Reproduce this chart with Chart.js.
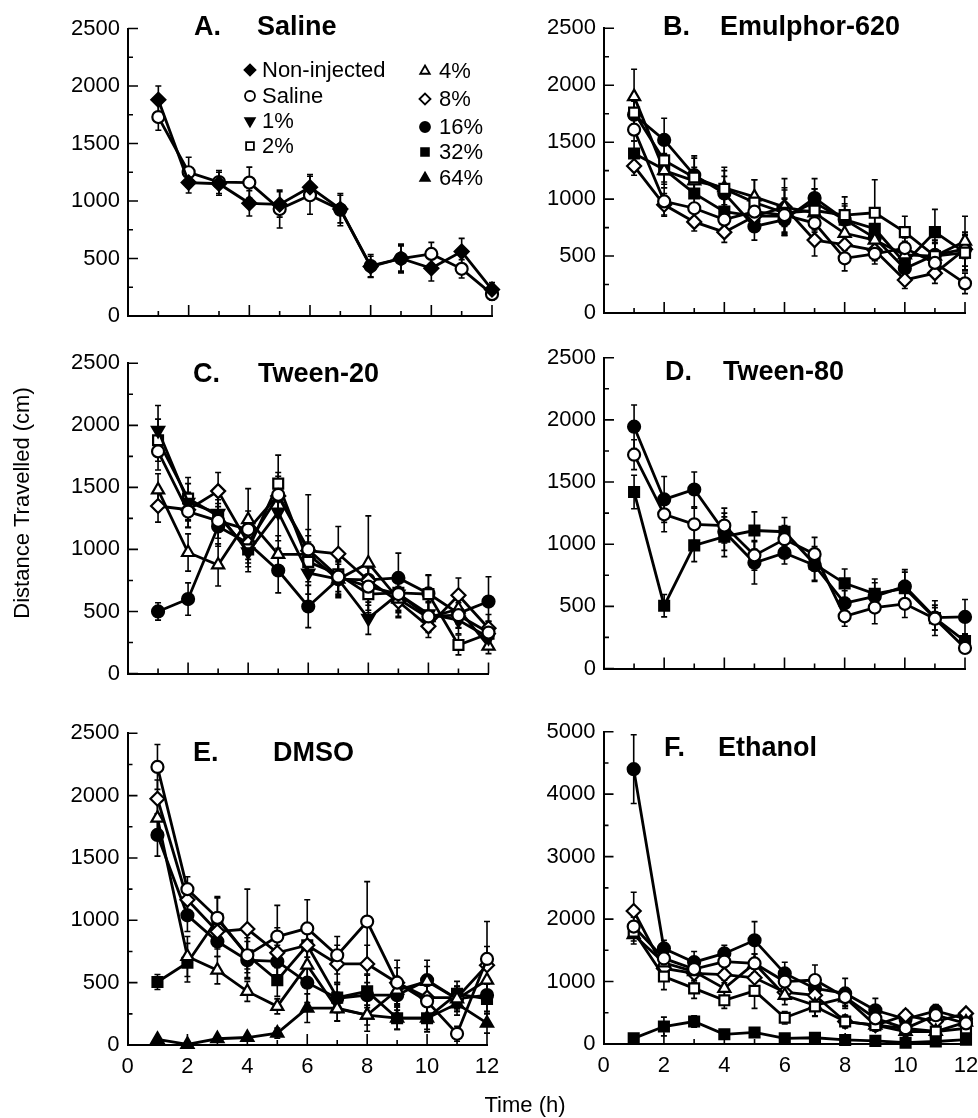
<!DOCTYPE html>
<html><head><meta charset="utf-8">
<script src="https://cdn.jsdelivr.net/npm/chart.js@4/dist/chart.umd.min.js"></script>
<style>
html,body{margin:0;padding:0;background:#fff;}
body{width:978px;height:1118px;overflow:hidden;position:relative;}
canvas{position:absolute;left:0;top:0;}
</style></head><body>
<canvas id="cA" width="1000" height="1118"></canvas>
<canvas id="cB" width="1000" height="1118"></canvas>
<canvas id="cC" width="1000" height="1118"></canvas>
<canvas id="cD" width="1000" height="1118"></canvas>
<canvas id="cE" width="1000" height="1118"></canvas>
<canvas id="cF" width="1000" height="1118"></canvas>
<script>
// ---------------- DATA ----------------
const times = [1,2,3,4,5,6,7,8,9,10,11,12];
const xTickValues = [0,2,4,6,8,10,12];
const xMinorValues = [1,2,3,4,5,6,7,8,9,10,11,12];
const yTickValues = [0,500,1000,1500,2000,2500];
const yMinorValues = [0,250,500,750,1000,1250,1500,1750,2000,2250,2500];
const yTickValuesF = [0,1000,2000,3000,4000,5000];
const yMinorValuesF = [0,500,1000,1500,2000,2500,3000,3500,4000,4500,5000];
const panelLetters = ['A.','B.','C.','D.','E.','F.'];
const panelNames = ['Saline','Emulphor-620','Tween-20','Tween-80','DMSO','Ethanol'];
const legendLabels = ['Non-injected','Saline','1%','2%','4%','8%','16%','32%','64%'];
const legendKeys = ['nonInj','saline','p1','p2','p4','p8','p16','p32','p64'];
const yAxisTitle = 'Distance Travelled (cm)';
const xAxisTitle = 'Time (h)';

// A. Saline
const aNonInj    = [1880,1160,1150,980,970,1120,930,430,500,415,560,230];
const aNonInjErr = [120,90,100,110,110,110,120,90,110,110,115,60];
const aSaline    = [1730,1250,1165,1160,930,1050,925,435,500,540,410,190];
const aSalineErr = [115,130,100,135,165,165,140,100,125,100,80,50];

// B. Emulphor-620
const bSaline = [1610,980,920,820,890,860,790,480,520,570,440,260];
const bSalineErr = [100,120,90,100,110,150,120,110,90,90,90,90];
const b2  = [1760,1340,1190,1090,970,880,900,860,880,710,500,530];
const b2Err = [150,190,170,190,200,200,190,160,290,140,120,150];
const b4  = [1900,1250,1160,1100,1020,930,880,700,640,510,500,630];
const b4Err = [240,150,120,150,150,170,150,150,130,120,110,220];
const b8  = [1290,950,800,710,850,930,640,600,550,290,350,560];
const b8Err = [80,100,80,90,130,250,140,100,90,75,90,80];
const b16 = [1740,1520,1210,1050,760,820,1010,820,660,390,510,560];
const b16Err = [120,190,170,150,120,130,170,120,120,100,130,150];
const b32 = [1400,1260,1050,890,850,850,970,820,740,440,710,530];
const b32Err = [110,130,140,140,130,150,120,140,110,120,200,160];

// C. Tween-20
const cSaline = [1790,1305,1230,1160,1440,1000,780,700,640,460,470,330];
const cSalineErr = [150,130,140,150,180,440,150,150,130,120,100,90];
const c1  = [1960,1380,1290,980,1300,810,760,445,640,480,430,290];
const c1Err = [200,150,150,160,230,170,140,130,150,130,110,80];
const c2  = [1880,1410,1270,1000,1530,900,800,640,650,640,230,320];
const c2Err = [170,170,130,140,230,160,140,150,150,150,80,100];
const c4  = [1480,975,875,1240,960,960,760,890,600,450,520,220];
const c4Err = [130,150,170,250,150,150,120,380,150,120,120,60];
const c8  = [1350,1320,1470,1050,1430,990,965,750,580,380,630,365];
const c8Err = [130,140,150,130,160,170,220,150,120,90,140,110];
const c16 = [500,600,1185,1050,830,540,760,755,770,645,485,580];
const c16Err = [70,130,160,160,180,170,150,150,200,150,120,200];

// D. Tween-80
const dSaline = [1720,1240,1160,1150,910,1040,920,420,490,520,400,165];
const dSalineErr = [120,140,130,140,120,110,135,80,130,110,90,40];
const d16 = [1945,1360,1440,1100,850,930,830,525,580,660,410,415];
const d16Err = [175,185,140,150,170,90,120,100,110,135,100,140];
const d32 = [1420,505,990,1060,1110,1100,840,685,600,645,405,220];
const d32Err = [135,90,130,160,150,115,140,115,120,130,140,60];

// E. DMSO
const eSaline = [2230,1250,1020,720,870,935,720,990,500,350,90,690];
const eSalineErr = [180,100,170,180,250,230,150,320,180,160,60,300];
const e4  = [1820,710,600,430,310,640,290,240,440,510,370,520];
const e4Err = [120,160,110,80,60,150,100,130,110,120,100,140];
const e8  = [1975,1165,910,930,740,800,650,650,500,380,380,640];
const e8Err = [150,120,140,320,200,150,150,150,120,130,90,150];
const e16 = [1685,1040,830,680,670,500,375,400,400,520,370,400];
const e16Err = [170,130,120,150,130,160,110,170,120,160,100,130];
const e32 = [505,660,1010,720,520,800,380,430,215,215,410,370];
const e32Err = [60,155,170,140,130,130,120,130,90,90,100,120];
const e64 = [45,5,50,60,95,295,295,240,215,215,330,175];
const e64Err = [20,10,15,20,40,115,100,80,90,110,90,80];

// F. Ethanol
const fSaline = [1880,1370,1200,1320,1290,1000,1025,750,410,250,460,330];
const fSalineErr = [150,120,150,130,150,150,240,150,120,100,80,80];
const f2  = [1800,1080,890,700,850,420,600,360,300,250,200,250];
const f2Err = [150,210,160,130,280,100,150,100,80,80,60,60];
const f4  = [1750,1300,1160,890,1290,780,620,740,300,200,200,350];
const f4Err = [150,130,150,130,150,150,180,120,90,80,60,60];
const f8  = [2130,1210,1130,1110,1060,830,780,360,300,460,360,490];
const f8Err = [300,130,150,130,150,120,130,100,90,80,70,60];
const f16 = [4400,1530,1310,1450,1660,1130,890,810,540,400,530,400];
const f16Err = [550,130,170,130,300,180,200,240,190,120,100,80];
const f32 = [90,280,360,155,185,90,100,65,50,20,40,70];
const f32Err = [50,150,90,60,70,40,40,30,30,20,20,30];

// ---------------- STYLES ----------------
const FONT = '"Liberation Sans", Arial, Helvetica, sans-serif';
const MARK = {
  nonInj: {style:'rectRot', fill:true,  rot:0,   r:7},
  saline: {style:'circle',  fill:false, rot:0,   r:6},
  p1:     {style:'triangle',fill:true,  rot:180, r:7},
  p2:     {style:'rect',    fill:false, rot:0,   r:7},
  p4:     {style:'triangle',fill:false, rot:0,   r:7},
  p8:     {style:'rectRot', fill:false, rot:0,   r:7},
  p16:    {style:'circle',  fill:true,  rot:0,   r:6},
  p32:    {style:'rect',    fill:true,  rot:0,   r:7},
  p64:    {style:'triangle',fill:true,  rot:0,   r:7}
};

function ds(key, values, errors) {
  const m = MARK[key];
  return {
    label: legendLabels[legendKeys.indexOf(key)],
    data: times.map((t,i)=>({x:t, y:values[i]})),
    errors: errors,
    borderColor:'#000', borderWidth:2.8,
    pointStyle:m.style, pointRotation:m.rot, pointRadius:m.r, pointHoverRadius:m.r,
    pointBackgroundColor: m.fill ? '#000' : '#fff',
    pointBorderColor:'#000', pointBorderWidth:2.2,
    tension:0, clip:false
  };
}

// ---------------- PLUGINS ----------------
const errorBars = {
  id:'errorBars',
  beforeDatasetsDraw(chart){
    const ctx = chart.ctx, ys = chart.scales.y;
    ctx.save(); ctx.strokeStyle='#000'; ctx.lineWidth=1.6;
    chart.data.datasets.forEach((d,i)=>{
      if(!d.errors) return;
      const meta = chart.getDatasetMeta(i);
      meta.data.forEach((pt,j)=>{
        const v = d.data[j].y, e = d.errors[j];
        const y1 = ys.getPixelForValue(v+e), y2 = ys.getPixelForValue(Math.max(0,v-e));
        ctx.beginPath();
        ctx.moveTo(pt.x,y1); ctx.lineTo(pt.x,y2);
        ctx.moveTo(pt.x-3,y1); ctx.lineTo(pt.x+3,y1);
        ctx.moveTo(pt.x-3,y2); ctx.lineTo(pt.x+3,y2);
        ctx.stroke();
      });
    });
    ctx.restore();
  }
};

const inTicks = {
  id:'inTicks',
  afterDraw(chart, args, o){
    const ctx = chart.ctx, xs = chart.scales.x, ys = chart.scales.y, a = chart.chartArea;
    ctx.save(); ctx.strokeStyle='#000'; ctx.lineWidth=1.6; ctx.beginPath();
    for (const v of o.xMinor) {
      const px = xs.getPixelForValue(v);
      const len = o.xMajor.includes(v) ? 11 : 5;
      ctx.moveTo(px, a.bottom); ctx.lineTo(px, a.bottom - len);
    }
    for (const v of o.yMinor) {
      const py = ys.getPixelForValue(v);
      const len = o.yMajor.includes(v) ? 10 : 5;
      ctx.moveTo(a.left, py); ctx.lineTo(a.left + len, py);
    }
    ctx.stroke(); ctx.restore();
  }
};

const panelTitle = {
  id:'panelTitle',
  afterDraw(chart, args, o){
    const ctx = chart.ctx, a = chart.chartArea;
    ctx.save(); ctx.fillStyle='#000';
    ctx.font = 'bold 27px ' + FONT; ctx.textBaseline='alphabetic'; ctx.textAlign='left';
    ctx.fillText(o.letter, a.left + o.dxL, a.top + o.dy);
    ctx.fillText(o.name, a.left + o.dxN, a.top + o.dy);
    ctx.restore();
  }
};

function drawMarker(ctx, key, x, y, r) {
  const m = MARK[key];
  ctx.fillStyle = m.fill ? '#000' : '#fff';
  ctx.strokeStyle = '#000';
  ctx.lineWidth = 1.8;
  Chart.helpers.drawPoint(ctx, {pointStyle:m.style, rotation:m.rot, radius:r, borderWidth:1.8}, x, y);
}

const panelLegend = {
  id:'panelLegend',
  afterDraw(chart, args, o){
    if(!o.show) return;
    const ctx = chart.ctx;
    ctx.save();
    ctx.font = '22px ' + FONT; ctx.textBaseline='middle'; ctx.textAlign='left';
    legendKeys.forEach((k,i)=>{
      const col = i < 4 ? 0 : 1;
      const row = i < 4 ? i : i - 4;
      const mx = o.colX[col], tx = o.textX[col], y = o.rowY[col][row];
      drawMarker(ctx, k, mx, y, k === 'saline' || k === 'p16' ? 5 : 5.5);
      ctx.fillStyle='#000';
      ctx.fillText(legendLabels[i], tx, y + 1);
    });
    ctx.restore();
  }
};

const axisTitles = {
  id:'axisTitles',
  afterDraw(chart, args, o){
    if(!o.show) return;
    const ctx = chart.ctx;
    ctx.save(); ctx.fillStyle='#000'; ctx.font='22px ' + FONT;
    ctx.textAlign='center'; ctx.textBaseline='middle';
    ctx.fillText(xAxisTitle, o.xTitleX, o.xTitleY);
    ctx.translate(o.yTitleX, o.yTitleY); ctx.rotate(-Math.PI/2);
    ctx.fillText(yAxisTitle, 0, 0);
    ctx.restore();
  }
};

Chart.register(errorBars, inTicks, panelTitle, panelLegend, axisTitles);

// ---------------- PANELS ----------------
const panels = [
  {id:'cA', idx:0, box:{L:128,R:492,T:28.5,B:316}, yMax:2500, yT:yTickValues, yM:yMinorValues, xLab:false, dxL:66, dxN:129, dy:6.5, legend:true,
   sets:[ds('nonInj',aNonInj,aNonInjErr), ds('saline',aSaline,aSalineErr)]},
  {id:'cB', idx:1, box:{L:604,R:965,T:28.3,B:313}, yMax:2500, yT:yTickValues, yM:yMinorValues, xLab:false, dxL:59, dxN:116, dy:6.7,
   sets:[ds('saline',bSaline,bSalineErr), ds('p2',b2,b2Err), ds('p4',b4,b4Err), ds('p8',b8,b8Err), ds('p16',b16,b16Err), ds('p32',b32,b32Err)]},
  {id:'cC', idx:2, box:{L:128,R:488.5,T:363.3,B:673.5}, yMax:2500, yT:yTickValues, yM:yMinorValues, xLab:false, dxL:65, dxN:130, dy:18.4,
   sets:[ds('saline',cSaline,cSalineErr), ds('p1',c1,c1Err), ds('p2',c2,c2Err), ds('p4',c4,c4Err), ds('p8',c8,c8Err), ds('p16',c16,c16Err)]},
  {id:'cD', idx:3, box:{L:604,R:965,T:357.7,B:668.5}, yMax:2500, yT:yTickValues, yM:yMinorValues, xLab:false, dxL:61, dxN:119, dy:22.3,
   sets:[ds('saline',dSaline,dSalineErr), ds('p16',d16,d16Err), ds('p32',d32,d32Err)]},
  {id:'cE', idx:4, box:{L:127.5,R:487,T:733.3,B:1045}, yMax:2500, yT:yTickValues, yM:yMinorValues, xLab:true, dxL:65.5, dxN:145.5, dy:27.4, titles:true,
   sets:[ds('saline',eSaline,eSalineErr), ds('p4',e4,e4Err), ds('p8',e8,e8Err), ds('p16',e16,e16Err), ds('p32',e32,e32Err), ds('p64',e64,e64Err)]},
  {id:'cF', idx:5, box:{L:603.5,R:966,T:731.7,B:1044}, yMax:5000, yT:yTickValuesF, yM:yMinorValuesF, xLab:true, dxL:60.5, dxN:114.5, dy:24.3,
   sets:[ds('saline',fSaline,fSalineErr), ds('p2',f2,f2Err), ds('p4',f4,f4Err), ds('p8',f8,f8Err), ds('p16',f16,f16Err), ds('p32',f32,f32Err)]}
];

const Y_W = 70, X_H = 40, CW = 1000, CH = 1118;

panels.forEach(p=>{
  const b = p.box;
  new Chart(document.getElementById(p.id), {
    type:'line',
    data:{datasets:p.sets},
    options:{
      responsive:false, animation:false, devicePixelRatio:1,
      layout:{autoPadding:false, padding:{left:b.L - Y_W, right:CW - b.R, top:b.T, bottom:CH - b.B - X_H}},
      events:[],
      scales:{
        x:{type:'linear', min:0, max:12,
           afterBuildTicks(s){ s.ticks = xTickValues.map(v=>({value:v})); },
           afterFit(s){ s.height = X_H; },
           grid:{display:false, drawTicks:false},
           border:{display:true, color:'#000', width:2},
           ticks:{display:p.xLab, color:'#000', padding:9, maxRotation:0, autoSkip:false,
                  font:{family:FONT, size:22}, callback:(v)=>String(v)}},
        y:{type:'linear', min:0, max:p.yMax,
           afterBuildTicks(s){ s.ticks = p.yT.map(v=>({value:v})); },
           afterFit(s){ s.width = Y_W; },
           grid:{display:false, drawTicks:false},
           border:{display:true, color:'#000', width:2},
           ticks:{color:'#000', padding:8, autoSkip:false,
                  font:{family:FONT, size:22}, callback:(v)=>String(v)}}
      },
      plugins:{
        legend:{display:false}, tooltip:{enabled:false}, title:{display:false},
        inTicks:{xMinor:xMinorValues, xMajor:xTickValues, yMinor:p.yM, yMajor:p.yT},
        panelTitle:{letter:panelLetters[p.idx], name:panelNames[p.idx], dxL:p.dxL, dxN:p.dxN, dy:p.dy},
        panelLegend:{show:!!p.legend, colX:[250,425], textX:[262,439], rowY:[[70,96,121,146],[71,99,127,152,178]]},
        axisTitles:{show:!!p.titles, xTitleX:525, xTitleY:1106, yTitleX:23, yTitleY:503}
      }
    }
  });
});
</script>
</body></html>
